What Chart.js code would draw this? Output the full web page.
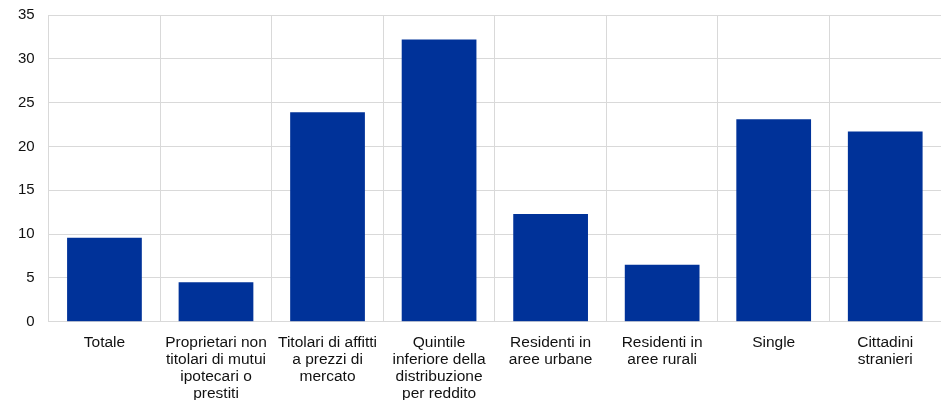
<!DOCTYPE html>
<html>
<head>
<meta charset="utf-8">
<script src="https://cdn.jsdelivr.net/npm/chart.js@4"></script>
<style>
  html, body { margin: 0; padding: 0; background: #fff; overflow: hidden; }
  #wrap { position: relative; width: 941px; height: 422px; margin-top: -8px; }
</style>
</head>
<body>
<div id="wrap"><canvas id="myChart"></canvas></div>
<script>
const categories = [
  ["Totale"],
  ["Proprietari non", "titolari di mutui", "ipotecari o", "prestiti"],
  ["Titolari di affitti", "a prezzi di", "mercato"],
  ["Quintile", "inferiore della", "distribuzione", "per reddito"],
  ["Residenti in", "aree urbane"],
  ["Residenti in", "aree rurali"],
  ["Single"],
  ["Cittadini", "stranieri"]
];
const values = [9.6, 4.5, 23.9, 32.2, 12.3, 6.5, 23.1, 21.7];
const yTicks = [0, 5, 10, 15, 20, 25, 30, 35];

Chart.defaults.font.family = "'Liberation Sans', Arial, sans-serif";
Chart.defaults.color = '#111';

const ctx = document.getElementById('myChart').getContext('2d');
const myChart = new Chart(ctx, {
  type: 'bar',
  data: {
    labels: categories,
    datasets: [{
      data: values,
      backgroundColor: '#003299',
      borderWidth: 0,
      barPercentage: 0.67,
      categoryPercentage: 1
    }]
  },
  options: {
    responsive: true,
    maintainAspectRatio: false,
    animation: false,
    layout: { padding: { top: 0, right: 0, left: 4, bottom: 0 } },
    plugins: { legend: { display: false }, tooltip: { enabled: false } },
    scales: {
      x: {
        offset: true,
        grid: { color: '#d9d9d9', lineWidth: 1, drawTicks: false, offset: true },
        border: { color: '#d9d9d9' },
        ticks: {
          maxRotation: 0, autoSkip: false, padding: 12,
          font: { size: 15.5, lineHeight: 1.1 }
        }
      },
      y: {
        min: 0, max: 35,
        afterBuildTicks: (axis) => { axis.ticks = yTicks.map(v => ({ value: v })); },
        grid: { color: '#d9d9d9', lineWidth: 1, drawTicks: false },
        border: { color: '#d9d9d9' },
        ticks: { padding: 14, font: { size: 15 } }
      }
    }
  }
});
</script>
</body>
</html>
